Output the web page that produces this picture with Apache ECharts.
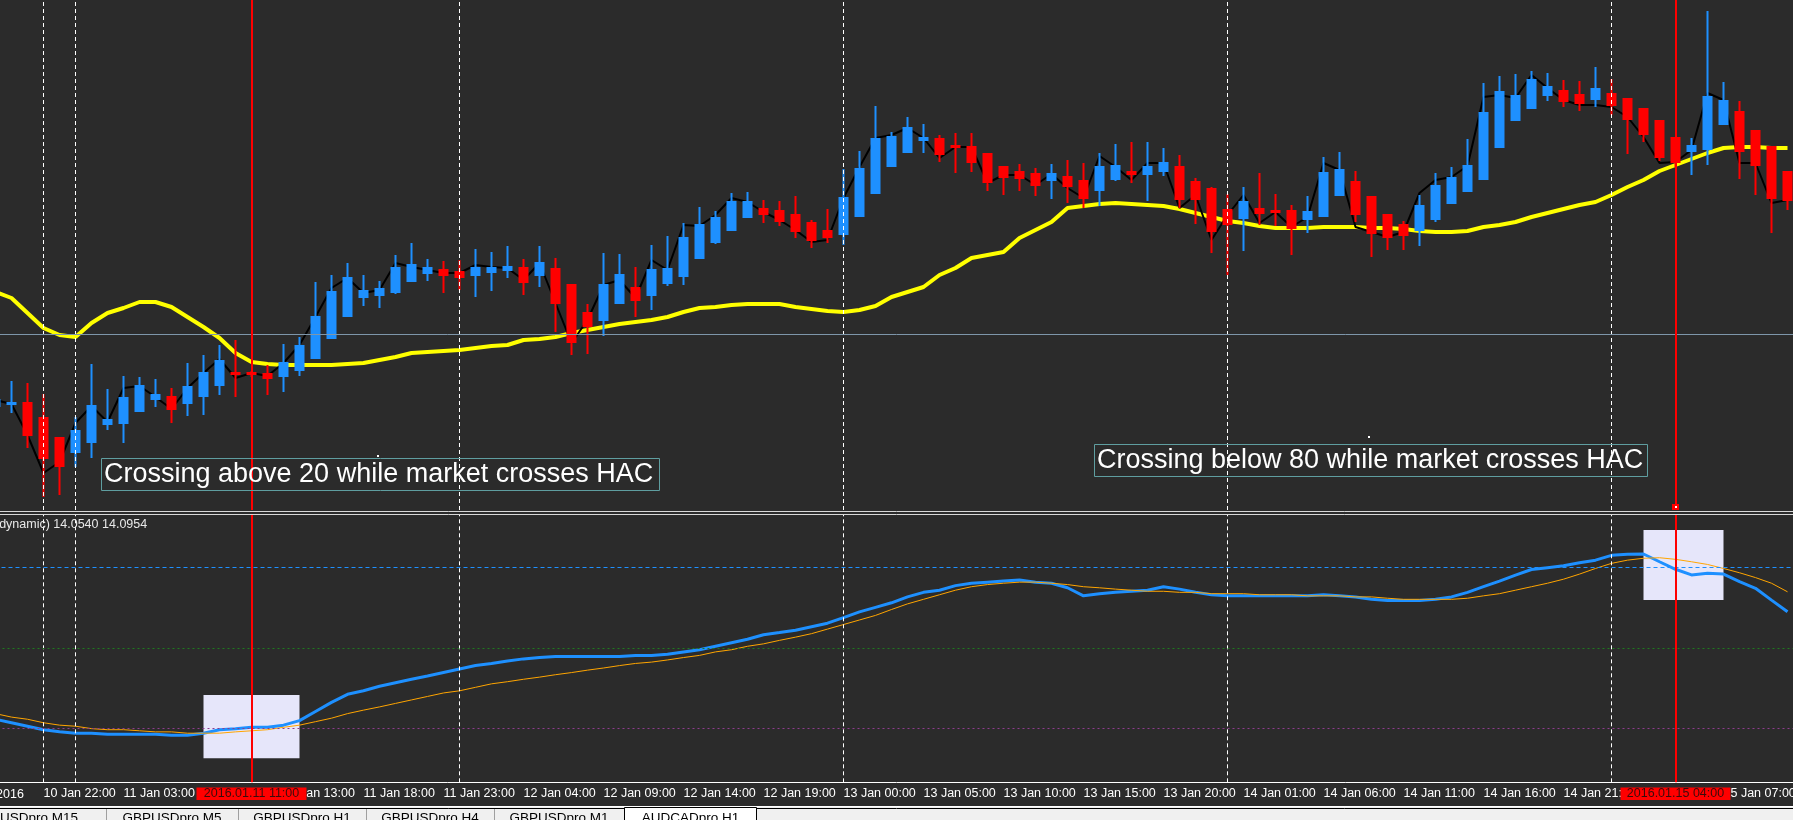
<!DOCTYPE html>
<html>
<head>
<meta charset="utf-8">
<script src="https://cdn.jsdelivr.net/npm/echarts/dist/echarts.min.js"></script>
<style>
  html, body { margin: 0; padding: 0; background: #2b2b2b; overflow: hidden; }
  #chart { width: 1793px; height: 820px; }
</style>
</head>
<body>
<div id="chart"></div>
<script>
const FONT = '"Liberation Sans", Arial, sans-serif'

// hourly bars: three Friday bars, then from Sunday 10 Jan 22:00
const categories = ['8 Jan 21:00', '8 Jan 22:00', '8 Jan 23:00']
const dayNames = ['10 Jan', '11 Jan', '12 Jan', '13 Jan', '14 Jan', '15 Jan']
for (let i = 0; i < 110; i++) {
  const t = 22 + i
  categories.push(dayNames[Math.floor(t / 24)] + ' ' + String(t % 24).padStart(2, '0') + ':00')
}

// candles (price in chart points)
const opens = [114,116,117,102,82,68,78,96,97,109,121,123,117,124,135,147,147,146,144,150,
  162,182,204,223,225,228,239,247,250,248,245,248,250,252,245,251,235,207,200,217,
  232,225,237,244,262,278,290,303,311,309,305,297,289,286,304,327,354,368,380,381,
  374,373,366,353,348,346,340,343,339,330,341,348,346,349,353,338,331,310,302,311,
  309,309,301,304,325,338,323,305,295,290,301,317,329,341,373,400,412,425,429,425,
  421,426,421,411,399,382,369,371,396,408,389,373,348]
const closes = [120,117,85,62,54,89,114,100,122,134,125,111,133,147,159,146,146,142,157,174,
  203,228,242,229,231,252,255,252,245,243,252,252,253,238,257,217,178,194,235,245,
  220,250,251,282,295,302,318,318,306,299,289,280,283,322,351,381,383,392,382,366,
  373,358,338,343,342,335,346,334,322,353,354,346,353,357,321,321,289,296,318,307,
  308,292,308,347,350,306,287,283,285,314,334,342,354,407,428,424,440,433,419,417,
  431,415,401,386,363,358,374,423,419,369,355,322,320]
const lows = [112,107,72,23,25,53,62,90,77,109,113,97,104,105,125,123,143,125,128,144,
  162,182,203,214,212,226,239,239,227,230,223,229,242,225,233,188,165,166,184,217,
  203,210,234,235,262,276,289,303,297,294,282,272,277,275,303,327,353,367,367,358,
  347,348,329,325,329,324,321,317,312,314,339,337,319,344,312,296,267,245,269,295,
  294,265,287,303,324,298,263,270,270,274,298,316,328,340,372,399,411,419,413,409,
  413,405,366,378,359,353,345,355,395,341,325,287,310]
const highs = [122,139,137,126,82,103,156,131,144,143,141,132,157,165,175,180,149,155,176,183,
  238,245,257,245,239,265,277,261,259,260,271,268,274,261,274,262,235,216,267,266,
  253,275,284,297,313,309,327,328,320,319,324,300,311,351,369,414,388,403,396,385,
  387,387,367,353,356,352,356,360,357,367,376,378,378,372,365,342,333,326,333,347,
  326,315,324,363,368,349,323,305,299,325,347,353,381,437,444,446,449,447,440,439,
  453,441,421,411,399,382,382,509,438,419,389,373,348]

// thin black price line and the yellow HAC average
const closeLine = [120,116,85,47,58,97,114,98,132,134,123,111,132,147,161,142,147,144,157,175,
  203,232,242,227,230,257,253,250,247,247,255,253,252,240,257,217,177,200,235,240,
  222,260,250,295,294,305,322,318,308,300,290,278,280,322,353,382,385,392,382,362,
  373,373,337,345,345,335,346,332,322,364,353,340,357,357,312,325,280,305,325,297,
  308,293,303,357,350,293,288,283,288,327,340,343,354,423,425,422,445,432,420,415,
  415,413,403,383,357,358,370,427,420,357,357,317,320]
const hacLine = [228,222,207,192,185,183,197,207,212,218,218,213,203,193,182,167,158,156,155,155,
  155,155,156,157,160,163,167,168,169,170,172,174,175,180,181,183,187,190,193,196,
  198,200,203,208,212,213,215,216,216,216,213,211,209,208,210,214,223,228,233,245,
  252,262,265,268,282,290,298,312,314,316,317,316,315,314,311,307,303,299,297,294,
  292,292,292,293,293,293,292,292,291,289,288,288,289,293,295,298,303,307,311,315,
  318,325,333,340,349,355,361,367,372,373,373,372,372]
const hLineLevel = 186

// oscillator pane
const mainLine = [23.5,22.2,20.9,19.6,18.8,18.3,18.3,17.9,17.9,17.9,17.9,17.5,17.5,18.3,19.6,20.0,20.5,20.5,21.3,23.0,
  26.4,29.8,32.8,34.1,35.8,37.1,38.4,39.6,40.9,42.2,43.5,44.3,45.2,46.0,46.5,46.9,46.9,46.9,46.9,46.9,
  47.3,47.3,47.7,48.6,49.4,50.7,52.0,53.3,55.0,55.8,56.7,58.0,59.3,61.4,63.5,65.2,66.9,69.1,70.8,71.6,
  73.3,74.2,74.6,75.0,75.4,74.6,74.2,72.5,69.5,70.3,70.8,71.2,71.6,72.9,72.0,70.8,69.9,69.5,69.5,69.5,
  69.5,69.5,69.5,69.9,69.5,69.1,68.2,67.8,67.8,67.8,68.2,69.1,70.8,72.9,75.0,77.2,79.3,80.0,80.7,81.8,
  82.8,84.6,85.0,85.1,82.2,79.4,77.3,77.9,77.6,74.8,72.3,67.9,63.6]
const signalLine = [25.6,24.3,23.5,22.2,21.3,20.9,20.0,19.6,19.6,19.2,18.8,18.8,18.3,18.3,18.3,18.8,19.2,19.6,20.5,21.3,
  22.6,23.9,25.6,26.9,28.1,29.4,30.7,32.0,33.3,34.1,35.4,36.7,37.5,38.4,39.2,40.1,40.9,41.8,42.6,43.5,
  44.3,44.8,45.6,46.5,47.3,48.6,49.4,50.7,51.6,52.9,54.1,55.4,57.1,58.8,60.5,62.2,64.4,66.5,68.2,69.9,
  71.6,72.9,73.7,74.2,74.6,74.6,74.2,73.7,72.9,72.5,72.0,71.6,71.2,71.2,70.8,70.8,70.3,70.3,70.3,69.9,
  69.9,69.9,69.5,69.5,69.5,69.1,69.1,68.6,68.2,68.2,68.2,68.2,68.6,69.5,70.3,71.6,72.9,74.2,75.7,77.6,
  79.7,81.6,82.8,83.5,83.7,83.1,82.2,81.2,79.7,78.1,76.3,74.2,71.0]
const levels = [80, 50, 20]
const levelColors = ['#1e90ff', '#1f7a1f', '#8e3c8e']
const levelTypes = [[4, 3], [2, 3], [2, 3]]

// day separators, cursor lines and boxes
const separators = ['10 Jan 22:00', '11 Jan 00:00', '12 Jan 00:00', '13 Jan 00:00', '14 Jan 00:00', '15 Jan 00:00']
const cursorTimes = ['11 Jan 11:00', '15 Jan 04:00']
const cursorLabels = ['2016.01.11 11:00', '2016.01.15 04:00']
const boxes = [
  [['11 Jan 08:00', 32.5], ['11 Jan 14:00', 9.0]],
  [['15 Jan 02:00', 94.0], ['15 Jan 07:00', 67.9]],
]
const notes = ['Crossing above 20 while market crosses HAC', 'Crossing below 80 while market crosses HAC']
const tabs = ['GBPUSDpro,M15', 'GBPUSDpro,M5', 'GBPUSDpro,H1', 'GBPUSDpro,H4', 'GBPUSDpro,M1', 'AUDCADpro,H1']

const candles = opens.map((o, i) => [o, closes[i], lows[i], highs[i]])
const isTick = (idx) => idx >= 3 && (idx - 3) % 5 === 0

const vLines = (list) => list.map(c => ({ xAxis: c }))

const chart = echarts.init(document.getElementById('chart'))

chart.setOption({
  animation: false,
  backgroundColor: '#2b2b2b',
  grid: [
    { left: -12.5, width: 1808, top: 0, height: 510, outerBoundsMode: 'none' },
    { left: -12.5, width: 1808, top: 514, height: 268.3, outerBoundsMode: 'none' },
  ],
  xAxis: [
    { type: 'category', gridIndex: 0, data: categories, boundaryGap: true,
      axisLine: { show: false }, axisTick: { show: false }, axisLabel: { show: false }, splitLine: { show: false } },
    { type: 'category', gridIndex: 1, data: categories, boundaryGap: true,
      axisLine: { lineStyle: { color: '#ffffff', width: 1 } },
      axisTick: { interval: isTick, alignWithLabel: true, length: 4, lineStyle: { color: '#ffffff' } },
      axisLabel: { interval: isTick, color: '#ffffff', fontSize: 12.5, fontFamily: FONT, align: 'left', margin: 5 },
      splitLine: { show: false } },
  ],
  yAxis: [
    { type: 'value', gridIndex: 0, min: 10, max: 520, show: false },
    { type: 'value', gridIndex: 1, min: 0, max: 100, show: false },
  ],
  series: [
    { type: 'line', xAxisIndex: 0, yAxisIndex: 0, data: hacLine, symbol: 'none', silent: true, z: 2,
      lineStyle: { color: '#ffff00', width: 4 },
      markLine: { silent: true, symbol: ['none', 'none'], label: { show: false },
        lineStyle: { color: '#ffffff', width: 1, type: [4, 3] },
        data: [...vLines(separators),
          { yAxis: hLineLevel, lineStyle: { color: '#7e96aa', width: 1, type: 'solid' } }] } },
    { type: 'line', xAxisIndex: 0, yAxisIndex: 0, data: closeLine, symbol: 'none', silent: true, z: 3,
      lineStyle: { color: '#000000', width: 2 } },
    { type: 'candlestick', xAxisIndex: 0, yAxisIndex: 0, data: candles, barWidth: 9, silent: true, z: 4,
      itemStyle: { color: '#1e90ff', color0: '#ff0000', borderColor: '#1e90ff', borderColor0: '#ff0000', borderWidth: 2 } },
    { type: 'line', xAxisIndex: 0, yAxisIndex: 0, data: [], z: 10,
      markLine: { silent: true, symbol: ['none', 'none'], label: { show: false },
        lineStyle: { color: '#ff0000', width: 2, type: 'solid' }, data: vLines(cursorTimes) } },

    { type: 'line', xAxisIndex: 1, yAxisIndex: 1, data: [], z: 1,
      markLine: { silent: true, symbol: ['none', 'none'], label: { show: false },
        lineStyle: { color: '#ffffff', width: 1, type: [4, 3] },
        data: [...vLines(separators),
          ...levels.map((v, i) => ({ yAxis: v, lineStyle: { color: levelColors[i], width: 1, type: levelTypes[i] } }))] } },
    { type: 'line', xAxisIndex: 1, yAxisIndex: 1, data: [], z: 2,
      markArea: { silent: true, itemStyle: { color: '#e6e6fa', opacity: 1 },
        data: boxes.map(b => [{ xAxis: b[0][0], yAxis: b[0][1] }, { xAxis: b[1][0], yAxis: b[1][1] }]) } },
    { type: 'line', xAxisIndex: 1, yAxisIndex: 1, data: mainLine, symbol: 'none', silent: true, z: 3,
      lineStyle: { color: '#1e90ff', width: 3 } },
    { type: 'line', xAxisIndex: 1, yAxisIndex: 1, data: signalLine, symbol: 'none', silent: true, z: 4,
      lineStyle: { color: '#ffa500', width: 1 } },
    { type: 'line', xAxisIndex: 1, yAxisIndex: 1, data: [], z: 10,
      markLine: { silent: true, symbol: ['none', 'none'], label: { show: false },
        lineStyle: { color: '#ff0000', width: 2, type: 'solid' }, data: vLines(cursorTimes) } },
  ],
})

// overlays: pane separator, labels, notes, cursor time boxes, terminal tabs
const tabEdges = [106, 238, 366, 494, 624, 757]
const tabRight = 78
const g = [
  { type: 'line', shape: { x1: 0, y1: 511.5, x2: 1793, y2: 511.5 }, style: { stroke: '#d8d8d8', lineWidth: 1 } },
  { type: 'line', shape: { x1: 0, y1: 514.5, x2: 1793, y2: 514.5 }, style: { stroke: '#d8d8d8', lineWidth: 1 } },
  { type: 'text', x: -5, y: 518, style: { text: '(dynamic) 14.0540 14.0954', fill: '#e8e8e8', font: '12.5px ' + FONT } },
  { type: 'text', x: -38, y: 795, style: { text: '8 Jan 2016', fill: '#ffffff', font: '12.5px ' + FONT, textVerticalAlign: 'middle' } },

  { type: 'rect', shape: { x: 101.5, y: 458.5, width: 558, height: 32 }, style: { fill: 'none', stroke: '#5f9ea0', lineWidth: 1 } },
  { type: 'text', x: 104, y: 475, style: { text: notes[0], fill: '#ffffff', font: '27px ' + FONT, textVerticalAlign: 'middle' } },
  { type: 'rect', shape: { x: 1094.5, y: 444.5, width: 553, height: 32 }, style: { fill: 'none', stroke: '#5f9ea0', lineWidth: 1 } },
  { type: 'text', x: 1097, y: 461, style: { text: notes[1], fill: '#ffffff', font: '27px ' + FONT, textVerticalAlign: 'middle' } },
  { type: 'rect', shape: { x: 377, y: 455, width: 2, height: 2 }, style: { fill: '#ffffff' } },
  { type: 'rect', shape: { x: 1368, y: 436, width: 2, height: 2 }, style: { fill: '#ffffff' } },

  { type: 'rect', shape: { x: 0, y: 806, width: 1793, height: 14 }, style: { fill: '#f0f0f0' } },
  { type: 'line', shape: { x1: 0, y1: 806.5, x2: 1793, y2: 806.5 }, style: { stroke: '#ffffff', lineWidth: 1 } },
  { type: 'line', shape: { x1: 0, y1: 808.5, x2: 1793, y2: 808.5 }, style: { stroke: '#000000', lineWidth: 1 } },
  { type: 'rect', shape: { x: 624.5, y: 807.5, width: 132, height: 14 }, style: { fill: '#ffffff', stroke: '#000000', lineWidth: 1 } },
]
tabEdges.slice(0, 4).forEach(x => g.push({ type: 'line', shape: { x1: x + 0.5, y1: 809, x2: x + 0.5, y2: 820 }, style: { stroke: '#a0a0a0', lineWidth: 1 } }))
tabs.forEach((t, i) => {
  const cx = i === 0 ? tabRight : (tabEdges[i - 1] + tabEdges[i]) / 2
  g.push({ type: 'text', x: cx, y: 811, style: { text: t, fill: '#000000', font: '13.5px ' + FONT, textAlign: i === 0 ? 'right' : 'center' } })
})
cursorTimes.forEach((c, i) => {
  const x = chart.convertToPixel({ xAxisIndex: 1 }, c)
  g.push({ type: 'rect', shape: { x: x - 55, y: 787.5, width: 110, height: 12.5 }, style: { fill: '#ff0000' } })
  g.push({ type: 'text', x: x, y: 794, style: { text: cursorLabels[i], fill: '#3c0b0b', font: '12.5px ' + FONT, textAlign: 'center', textVerticalAlign: 'middle' } })
})
{
  const x = chart.convertToPixel({ xAxisIndex: 1 }, cursorTimes[1])
  g.push({ type: 'rect', shape: { x: x - 3.5, y: 504, width: 7, height: 6 }, style: { fill: '#ff0000' } })
  g.push({ type: 'rect', shape: { x: x - 0.5, y: 506, width: 2, height: 2 }, style: { fill: '#ffffff' } })
}
chart.setOption({ graphic: { elements: g.map(e => Object.assign({ silent: true, z: 100 }, e)) } })
</script>
</body>
</html>
